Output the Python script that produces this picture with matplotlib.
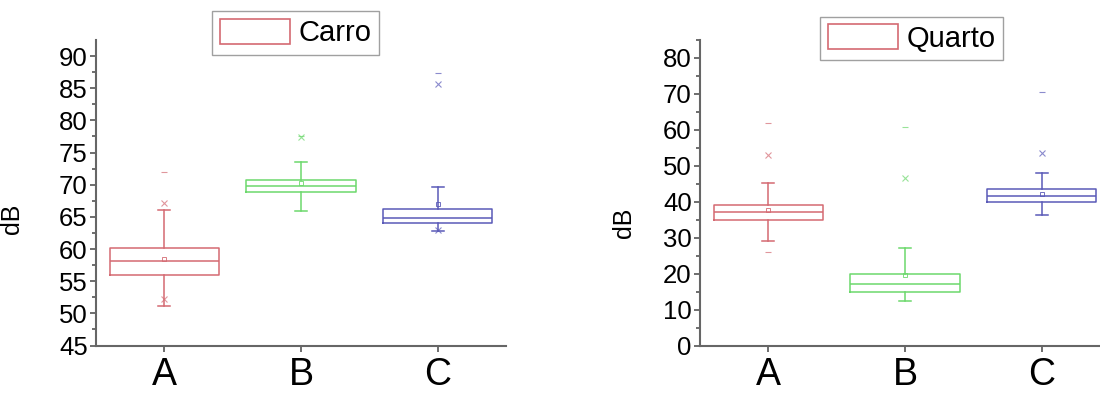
import matplotlib
matplotlib.use('Agg')
import matplotlib.pyplot as plt
from matplotlib.patches import Patch

plt.rcParams['font.family'] = ['Liberation Sans', 'DejaVu Sans']

groups = ['A', 'B', 'C']
colors = ['#d46a72', '#6cd86c', '#5a5ab8']

# Carro (car)
carro_q1 = [56.0, 68.8, 64.1]
carro_med = [58.1, 69.8, 64.9]
carro_q3 = [60.1, 70.8, 66.3]
carro_lo = [51.1, 65.9, 62.8]
carro_hi = [66.0, 73.5, 69.6]
carro_mean = [58.4, 70.2, 67.0]
carro_pct = [[67.1, 52.2], [77.4], [85.7, 62.9]]   # 1% / 99% (x markers)
carro_ext = [[72.0], [77.6], [87.4]]               # min / max (dash markers)

# Quarto (room)
quarto_q1 = [35.0, 14.8, 39.8]
quarto_med = [37.2, 17.0, 41.5]
quarto_q3 = [39.0, 20.0, 43.5]
quarto_lo = [29.1, 12.5, 36.2]
quarto_hi = [45.1, 27.2, 48.0]
quarto_mean = [37.6, 19.5, 42.1]
quarto_pct = [[53.0], [46.6], [53.6]]
quarto_ext = [[62.0, 26.0], [60.7], [70.5]]


def draw(ax, q1, med, q3, lo, hi, mean, pct, ext, ylim, major, minor):
    pos = [1, 2, 3]
    for i in range(3):
        st = [dict(med=med[i], q1=q1[i], q3=q3[i], whislo=lo[i], whishi=hi[i],
                   mean=mean[i], fliers=[])]
        c = colors[i]
        ax.bxp(st, positions=[pos[i]], widths=0.8, capwidths=0.09, showmeans=True,
               showfliers=False, manage_ticks=False,
               boxprops=dict(color=c, lw=1.1), medianprops=dict(color=c, lw=1.1),
               whiskerprops=dict(color=c, lw=1.1), capprops=dict(color=c, lw=1.1),
               meanprops=dict(marker='s', markersize=3, markerfacecolor='none',
                              markeredgecolor=c, markeredgewidth=0.6))
        ax.plot([pos[i]] * len(pct[i]), pct[i], ls='none', marker='x', ms=4,
                mew=0.8, color=c, alpha=0.7)
        ax.plot([pos[i]] * len(ext[i]), ext[i], ls='none', marker='_', ms=4,
                mew=0.8, color=c, alpha=0.7)

    ax.set_xlim(0.5, 3.5)
    ax.set_ylim(*ylim)
    ax.set_xticks(pos)
    ax.set_xticklabels(groups, fontsize=27)
    ax.set_yticks(major)
    ax.set_yticks(minor, minor=True)
    ax.tick_params(axis='y', labelsize=18.5, length=4, width=1.2, color='#555555', pad=2)
    ax.tick_params(axis='y', which='minor', length=3, width=1.2, color='#555555')
    ax.tick_params(axis='x', length=4, width=1.2, color='#555555', pad=4)
    for s in ['top', 'right']:
        ax.spines[s].set_visible(False)
    for s in ['left', 'bottom']:
        ax.spines[s].set_color('#666666')
        ax.spines[s].set_linewidth(1.5)
    ax.set_ylabel('dB', fontsize=18)
    return Patch(facecolor='white', edgecolor=colors[0], lw=1.2)


fig = plt.figure(figsize=(11, 3.93), dpi=100)
ax1 = fig.add_axes([96 / 1100, 47.5 / 393, 410 / 1100, 305.5 / 393])
ax2 = fig.add_axes([700 / 1100, 47.5 / 393, 410 / 1100, 305.5 / 393])

h1 = draw(ax1, carro_q1, carro_med, carro_q3, carro_lo, carro_hi, carro_mean,
          carro_pct, carro_ext, (45, 92.5), range(45, 91, 5),
          [45 + 2.5 * k for k in range(19)])
h2 = draw(ax2, quarto_q1, quarto_med, quarto_q3, quarto_lo, quarto_hi, quarto_mean,
          quarto_pct, quarto_ext, (0, 85), range(0, 81, 10),
          range(0, 86, 5))
ax1.yaxis.set_label_coords(-0.175, 0.416)
ax2.yaxis.set_label_coords(-0.157, 0.40)

for h, name, cx, cy in [(h1, 'Carro', 295.5, 33), (h2, 'Quarto', 911.5, 38.5)]:
    leg = fig.legend([h], [name], loc='center', bbox_to_anchor=(cx / 1100, 1 - cy / 393),
                     bbox_transform=fig.transFigure, fontsize=21, fancybox=False,
                     handlelength=2.4, handleheight=0.95, handletextpad=0.3,
                     borderpad=0.25, borderaxespad=0)
    leg.get_frame().set_edgecolor('#888888')
    leg.get_frame().set_linewidth(1.0)

fig.savefig('out.png', dpi=100)
